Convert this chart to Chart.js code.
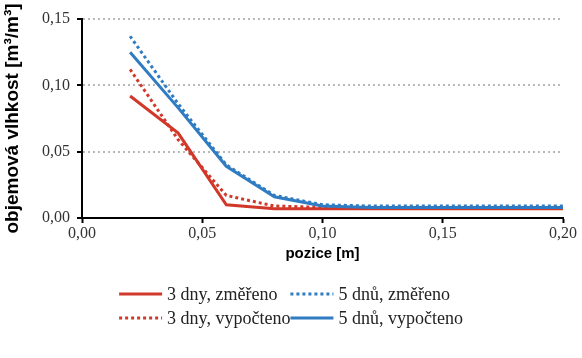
<!DOCTYPE html>
<html>
<head>
<meta charset="utf-8">
<script src="https://cdn.jsdelivr.net/npm/chart.js@4/dist/chart.umd.min.js"></script>
<style>
    html, body { margin: 0; padding: 0; background: #ffffff; }
    #wrap { width: 582px; height: 358px; }
</style>
</head>
<body>
<div id="wrap"><canvas id="moistureChart" width="582" height="358"></canvas></div>
<script>
const pozice = [0.02, 0.04, 0.06, 0.08, 0.10, 0.12, 0.14, 0.16, 0.18, 0.20];
const dny3Zmereno = [0.092, 0.064, 0.010, 0.007, 0.007, 0.007, 0.007, 0.007, 0.007, 0.007];
const dnu5Zmereno = [0.137, 0.086, 0.040, 0.017, 0.010, 0.009, 0.009, 0.009, 0.009, 0.009];
const dny3Vypocteno = [0.112, 0.059, 0.017, 0.009, 0.008, 0.008, 0.008, 0.008, 0.008, 0.008];
const dnu5Vypocteno = [0.125, 0.083, 0.039, 0.016, 0.009, 0.008, 0.008, 0.008, 0.008, 0.008];

const seriesLabels = ["3 dny, změřeno", "5 dnů, změřeno", "3 dny, vypočteno", "5 dnů, vypočteno"];
const xTicks = [0, 0.05, 0.10, 0.15, 0.20];
const yTicks = [0, 0.05, 0.10, 0.15];

const red = "#d2382a";
const blue = "#2f7cc2";
const serif = "'Liberation Serif', 'Times New Roman', serif";
const sans = "'Liberation Sans', Arial, sans-serif";

function points(values) {
    return values.map(function (v, i) {
        return { x: pozice[i], y: v };
    });
}

function comma(value) {
    return Number(value).toFixed(2).replace(".", ",");
}

// legend drawn like the Excel one: 2 columns, line sample + text
const legendPlugin = {
    id: "excelLegend",
    afterDraw: function (chart) {
        const ctx = chart.ctx;
        const sets = chart.data.datasets;
        const lineLen = 43;
        const gap = 5;
        const rows = [[0, 1], [2, 3]];
        const rowY = [294, 318];

        ctx.save();
        ctx.font = "18px " + serif;
        ctx.textBaseline = "middle";

        const colW = [0, 0];
        rows.forEach(function (row) {
            row.forEach(function (idx, c) {
                const w = lineLen + gap + ctx.measureText(sets[idx].label).width;
                colW[c] = Math.max(colW[c], w);
            });
        });
        const startX = (chart.width - colW[0] - colW[1]) / 2;

        rows.forEach(function (row, r) {
            let x = startX;
            row.forEach(function (idx, c) {
                const ds = sets[idx];
                const y = rowY[r];
                ctx.beginPath();
                ctx.lineWidth = ds.borderWidth;
                ctx.strokeStyle = ds.borderColor;
                ctx.setLineDash(ds.borderDash || []);
                ctx.moveTo(x, y);
                ctx.lineTo(x + lineLen, y);
                ctx.stroke();
                ctx.setLineDash([]);
                ctx.fillStyle = "#222222";
                ctx.fillText(ds.label, x + lineLen + gap, y + 1);
                x += colW[c];
            });
        });
        ctx.restore();
    },
};

function renderChart() {
    const ctx = document.getElementById("moistureChart").getContext("2d");

    new Chart(ctx, {
        type: "scatter",
        data: {
            datasets: [
                {
                    label: seriesLabels[0],
                    data: points(dny3Zmereno),
                    borderColor: red,
                    borderWidth: 3,
                    order: 4,
                },
                {
                    label: seriesLabels[1],
                    data: points(dnu5Zmereno),
                    borderColor: blue,
                    borderWidth: 3,
                    borderDash: [3, 3],
                    order: 3,
                },
                {
                    label: seriesLabels[2],
                    data: points(dny3Vypocteno),
                    borderColor: red,
                    borderWidth: 3,
                    borderDash: [3, 3],
                    order: 2,
                },
                {
                    label: seriesLabels[3],
                    data: points(dnu5Vypocteno),
                    borderColor: blue,
                    borderWidth: 3,
                    order: 1,
                },
            ],
        },
        options: {
            responsive: false,
            animation: false,
            showLine: true,
            elements: {
                point: { radius: 0, hoverRadius: 0 },
                line: { tension: 0, fill: false },
            },
            layout: {
                padding: { top: 19, right: 19, bottom: 95, left: 0 },
            },
            plugins: {
                legend: { display: false },
                tooltip: { enabled: false },
            },
            scales: {
                x: {
                    type: "linear",
                    min: 0,
                    max: 0.2,
                    afterBuildTicks: function (scale) {
                        scale.ticks = xTicks.map(function (v) { return { value: v }; });
                    },
                    afterFit: function (scale) {
                        scale.height = 45;
                    },
                    ticks: {
                        color: "#333333",
                        font: { family: serif, size: 16 },
                        padding: 1,
                        maxRotation: 0,
                        callback: comma,
                    },
                    grid: {
                        drawOnChartArea: false,
                        tickLength: 5,
                        tickColor: "#000000",
                        tickWidth: 2,
                    },
                    border: { color: "#000000", width: 2 },
                    title: {
                        display: true,
                        text: "pozice [m]",
                        color: "#000000",
                        font: { family: sans, size: 15, weight: "bold" },
                        padding: { top: 0, bottom: 0 },
                    },
                },
                y: {
                    min: 0,
                    max: 0.15,
                    afterBuildTicks: function (scale) {
                        scale.ticks = yTicks.map(function (v) { return { value: v }; });
                    },
                    afterFit: function (scale) {
                        scale.width = 82;
                    },
                    ticks: {
                        color: "#333333",
                        font: { family: serif, size: 16 },
                        padding: 7,
                        callback: comma,
                    },
                    grid: {
                        color: function (c) {
                            return c.tick && c.tick.value === 0 ? "rgba(0,0,0,0)" : "#b8b8b8";
                        },
                        lineWidth: 2,
                        tickLength: 5,
                        tickColor: "#000000",
                        tickWidth: 2,
                    },
                    border: { color: "#000000", width: 2, dash: [2, 3] },
                    title: {
                        display: true,
                        text: "objemová vlhkost [m³/m³]",
                        color: "#000000",
                        font: { family: sans, size: 19, weight: "bold" },
                        padding: { top: 1, bottom: 0 },
                    },
                },
            },
        },
        plugins: [legendPlugin],
    });
}

renderChart();
</script>
</body>
</html>
